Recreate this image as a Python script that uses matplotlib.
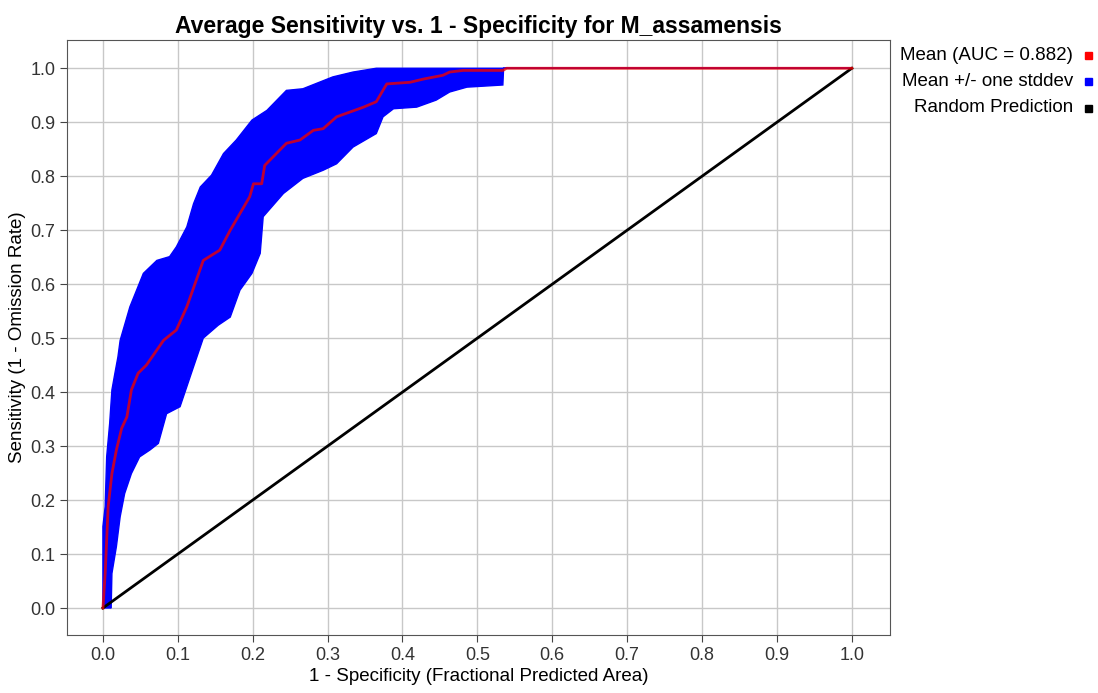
import numpy as np
import matplotlib
matplotlib.use("Agg")
from matplotlib import pyplot as plt
from matplotlib.patches import Rectangle

plt.rcParams['font.family'] = ['Liberation Sans', 'DejaVu Sans']

# mean ROC curve (1 - specificity, sensitivity)
mean_x = [0.0, 0.003, 0.005, 0.007, 0.012, 0.018, 0.025, 0.032, 0.038, 0.047,
          0.058, 0.069, 0.081, 0.098, 0.112, 0.123, 0.134, 0.156, 0.17, 0.183,
          0.196, 0.201, 0.212, 0.216, 0.245, 0.263, 0.281, 0.294, 0.312, 0.33,
          0.348, 0.365, 0.379, 0.41, 0.428, 0.454, 0.463, 0.481, 0.534, 0.539, 1.0]
mean_y = [0.0, 0.064, 0.126, 0.188, 0.249, 0.293, 0.333, 0.354, 0.404, 0.435,
          0.45, 0.472, 0.496, 0.515, 0.558, 0.601, 0.644, 0.663, 0.70, 0.731,
          0.762, 0.786, 0.786, 0.82, 0.861, 0.867, 0.885, 0.888, 0.91, 0.919,
          0.928, 0.938, 0.971, 0.974, 0.98, 0.987, 0.993, 0.996, 0.996, 1.0, 1.0]

# upper edge of mean + stddev band
upper_x = [0.0, 0.0, 0.003, 0.005, 0.009, 0.012, 0.016, 0.02, 0.023, 0.036,
           0.054, 0.072, 0.089, 0.098, 0.112, 0.121, 0.13, 0.145, 0.161, 0.178,
           0.199, 0.219, 0.245, 0.267, 0.307, 0.334, 0.365, 1.0]
upper_y = [0.0, 0.151, 0.188, 0.28, 0.342, 0.404, 0.435, 0.465, 0.496, 0.558,
           0.62, 0.644, 0.651, 0.669, 0.706, 0.749, 0.78, 0.802, 0.842, 0.867,
           0.904, 0.922, 0.959, 0.962, 0.984, 0.993, 1.0, 1.0]

# lower edge of mean - stddev band
lower_x = [0.011, 0.012, 0.018, 0.023, 0.029, 0.038, 0.049, 0.063, 0.074, 0.085,
           0.103, 0.112, 0.121, 0.134, 0.154, 0.17, 0.183, 0.199, 0.21, 0.214,
           0.241, 0.267, 0.294, 0.312, 0.334, 0.365, 0.374, 0.388, 0.419, 0.445,
           0.463, 0.486, 0.534, 0.535, 1.0]
lower_y = [0.0, 0.064, 0.114, 0.169, 0.212, 0.249, 0.28, 0.293, 0.305, 0.36,
           0.373, 0.41, 0.447, 0.50, 0.524, 0.539, 0.589, 0.62, 0.657, 0.725,
           0.768, 0.796, 0.811, 0.823, 0.854, 0.879, 0.91, 0.925, 0.928, 0.941,
           0.956, 0.965, 0.969, 1.0, 1.0]

random_x = [0.0, 1.0]
random_y = [0.0, 1.0]

ticks = np.round(np.arange(0, 1.01, 0.1), 1)
legend_labels = ['Mean (AUC = 0.882)', 'Mean +/- one stddev', 'Random Prediction']
legend_colors = ['#ff0000', '#0000ff', '#000000']

fig = plt.figure(figsize=(10.98, 6.93), dpi=100)
ax = fig.add_axes([0.061, 0.0837, 0.7496, 0.8583])

band_x = upper_x + lower_x[::-1]
band_y = upper_y + lower_y[::-1]
ax.fill(band_x, band_y, color='#0000ff', edgecolor='#0000ff', linewidth=1, zorder=2)
ax.plot(random_x, random_y, color='black', linewidth=2, zorder=3)
ax.plot(mean_x, mean_y, color='#ee0000', linewidth=2, alpha=0.8, zorder=4)

ax.set_xlim(-0.048, 1.051)
ax.set_ylim(-0.05, 1.052)
ax.set_xticks(ticks)
ax.set_yticks(ticks)
ax.set_xticklabels(['%.1f' % t for t in ticks])
ax.set_yticklabels(['%.1f' % t for t in ticks])
ax.tick_params(labelsize=13, colors='#444444', labelcolor='#333333', length=5)
ax.grid(True, color='#c8c8c8', linewidth=1)
ax.set_axisbelow(True)
for s in ax.spines.values():
    s.set_color('#555555')

ax.set_title('Average Sensitivity vs. 1 - Specificity for M_assamensis',
             fontsize=16.5, fontweight='bold', pad=5)
ax.set_xlabel('1 - Specificity (Fractional Predicted Area)', fontsize=13.5, labelpad=3)
ax.set_ylabel('Sensitivity (1 - Omission Rate)', fontsize=13.5, labelpad=3)

# legend on the right, text right-aligned with square swatches
for i, (lab, col) in enumerate(zip(legend_labels, legend_colors)):
    yy = 1 - (55 + i * 26.5) / 693
    fig.text(1073 / 1098, yy, lab, ha='right', va='center', fontsize=13.5)
    fig.patches.append(Rectangle((1085 / 1098, yy - 3.5 / 693), 7 / 1098, 7 / 693,
                                 transform=fig.transFigure, color=col, figure=fig))

plt.savefig('out.png')
